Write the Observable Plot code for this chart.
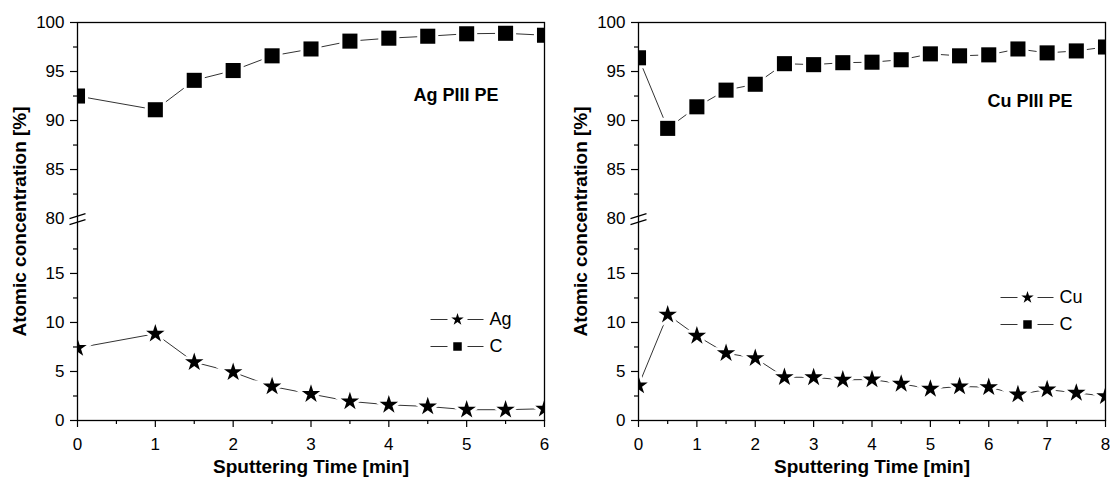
<!DOCTYPE html>
<html><head><meta charset="utf-8">
<script src="https://cdn.jsdelivr.net/npm/d3@7"></script>
<script src="https://cdn.jsdelivr.net/npm/@observablehq/plot@0.6"></script>
<style>
body{margin:0;background:#fff;}
#wrap{display:flex;width:1110px;height:479px;}
svg{overflow:visible;}
</style></head><body><div id="wrap"></div>
<script>
// ---- data ----
const agTime = [0, 1, 1.5, 2, 2.5, 3, 3.5, 4, 4.5, 5, 5.5, 6];
const agC    = [92.5, 91.1, 94.1, 95.1, 96.6, 97.3, 98.1, 98.4, 98.6, 98.85, 98.9, 98.7];
const agAg   = [7.4, 8.85, 5.95, 4.93, 3.47, 2.7, 1.95, 1.6, 1.43, 1.1, 1.1, 1.2];

const cuTime = [0, 0.5, 1, 1.5, 2, 2.5, 3, 3.5, 4, 4.5, 5, 5.5, 6, 6.5, 7, 7.5, 8];
const cuC    = [96.4, 89.2, 91.4, 93.1, 93.7, 95.8, 95.7, 95.9, 95.95, 96.2, 96.8, 96.6, 96.7, 97.3, 96.9, 97.1, 97.5];
const cuCu   = [3.57, 10.8, 8.64, 6.87, 6.36, 4.42, 4.4, 4.15, 4.18, 3.74, 3.23, 3.47, 3.4, 2.65, 3.16, 2.82, 2.48];

const yMajor = [0, 5, 10, 15, 85, 90, 95, 100];
const yBreakLabel = [80];
const yMinor = [2.5, 7.5, 12.5, 17.5, 82.5, 87.5, 92.5, 97.5];

const xTitle = "Sputtering Time [min]";
const yTitle = "Atomic concentration [%]";

// broken axis: 80 sits just above 20.6 on the lower segment
const LOW_TOP = 20.6;
const t = v => v >= 50 ? v - 80 + LOW_TOP : v;
const inv = v => String(Math.round(v > LOW_TOP - 0.01 ? v + 80 - LOW_TOP : v));

const breakSymbol = {draw(ctx){ ctx.moveTo(-8,0); ctx.lineTo(8,-5); ctx.moveTo(-8,6); ctx.lineTo(8,1); }};
const legendLine  = {draw(ctx){ ctx.moveTo(-27,0); ctx.lineTo(-10,0); ctx.moveTo(10,0); ctx.lineTo(26,0); }};

const FONT = "'Liberation Sans', Arial, Helvetica, sans-serif";
const TICK_FS = 17;

function panel(o){
  const cRows = o.time.map((x,i)=>({x, y:t(o.c[i])}));
  const mRows = o.time.map((x,i)=>({x, y:t(o.m[i])}));
  const xMaj = d3.range(0, o.xMax + 1, 1);
  const xMin = d3.range(0.5, o.xMax, 1);
  const lineStroke = "#333";
  return Plot.plot({
    width: 555, height: 479,
    marginLeft: o.ml, marginRight: o.mr, marginTop: 22, marginBottom: 59,
    style: {fontFamily: FONT, fontSize: "17px", color: "black", background: "white"},
    x: {domain: [0, o.xMax]},
    y: {domain: [0, t(100)]},
    marks: [
      // series lines
      Plot.line(cRows, {x:"x", y:"y", stroke: lineStroke, strokeWidth: 1, clip: true}),
      Plot.line(mRows, {x:"x", y:"y", stroke: lineStroke, strokeWidth: 1, clip: true}),
      // white halos give the gapped line look
      Plot.dot(cRows, {x:"x", y:"y", symbol:"square", r:8.5, fill:"white", stroke:"white", strokeWidth:6, clip: true}),
      Plot.dot(mRows, {x:"x", y:"y", symbol:"star", r:5.8, fill:"white", stroke:"white", strokeWidth:6, clip: true}),
      Plot.dot(cRows, {x:"x", y:"y", symbol:"square", r:8.5, fill:"black", stroke:"none", clip: true}),
      Plot.dot(mRows, {x:"x", y:"y", symbol:"star", r:5.8, fill:"black", stroke:"none", clip: true}),
      Plot.frame({stroke:"black", strokeWidth:1.3}),
      // axes
      Plot.axisX({ticks: xMaj, tickFormat: d => String(d), tickSize: 7, tickPadding: 10, label: null, strokeWidth: 1.2, fontSize: TICK_FS}),
      Plot.axisX({ticks: xMin, tickSize: 4, tickFormat: () => "", label: null, strokeWidth: 1.2}),
      Plot.axisY({ticks: yMajor.map(t), tickFormat: inv, tickSize: 7, tickPadding: 6, label: null, strokeWidth: 1.2, fontSize: TICK_FS}),
      Plot.axisY({ticks: yBreakLabel.map(t), tickFormat: inv, tickSize: 0, tickPadding: 13, label: null, fontSize: TICK_FS}),
      Plot.axisY({ticks: yMinor.map(t), tickSize: 4, tickFormat: () => "", label: null, strokeWidth: 1.2}),
      // axis break mark
      Plot.dot(yBreakLabel, {x: () => 0, y: d => t(d), symbol: breakSymbol, r: 5, fill: "none", stroke: "black", strokeWidth: 1.2}),
      // titles
      Plot.text([yTitle], {frameAnchor:"left", textAnchor:"middle", lineAnchor:"middle", rotate:-90, dx:-58, fontWeight:"bold", fontSize:19}),
      Plot.text([xTitle], {frameAnchor:"bottom", textAnchor:"middle", lineAnchor:"middle", dy:46, fontWeight:"bold", fontSize:19}),
      Plot.text([o.label], {frameAnchor:"top-right", textAnchor:"end", dx:o.labDx, dy:o.labDy, fontWeight:"bold", fontSize:18}),
      // legend
      ...o.legend.flatMap(L => [
        Plot.dot([L.name], {frameAnchor:"bottom-right", dx:o.legDx, dy:L.dy, symbol: legendLine, r: 5, fill:"none", stroke: lineStroke, strokeWidth: 1}),
        Plot.dot([L.name], {frameAnchor:"bottom-right", dx:o.legDx, dy:L.dy, symbol: L.symbol, r: L.r, fill:"black", stroke:"none"}),
        Plot.text([L.name], {frameAnchor:"bottom-right", textAnchor:"start", lineAnchor:"middle", dx:o.legDx + 32, dy:L.dy, fontSize:18})
      ])
    ]
  });
}

const wrap = document.getElementById("wrap");
wrap.append(panel({
  time: agTime, c: agC, m: agAg, xMax: 6, ml: 77, mr: 11,
  label: "Ag PIII PE", labDx: -46, labDy: 66,
  legDx: -87, legend: [{name:"Ag", symbol:"star", r:3.9, dy:-101}, {name:"C", symbol:"square", r:4.8, dy:-74}]
}));
wrap.append(panel({
  time: cuTime, c: cuC, m: cuCu, xMax: 8, ml: 83, mr: 5,
  label: "Cu PIII PE", labDx: -33, labDy: 72,
  legDx: -78, legend: [{name:"Cu", symbol:"star", r:3.9, dy:-123}, {name:"C", symbol:"square", r:4.8, dy:-96}]
}));
</script>
</body></html>
